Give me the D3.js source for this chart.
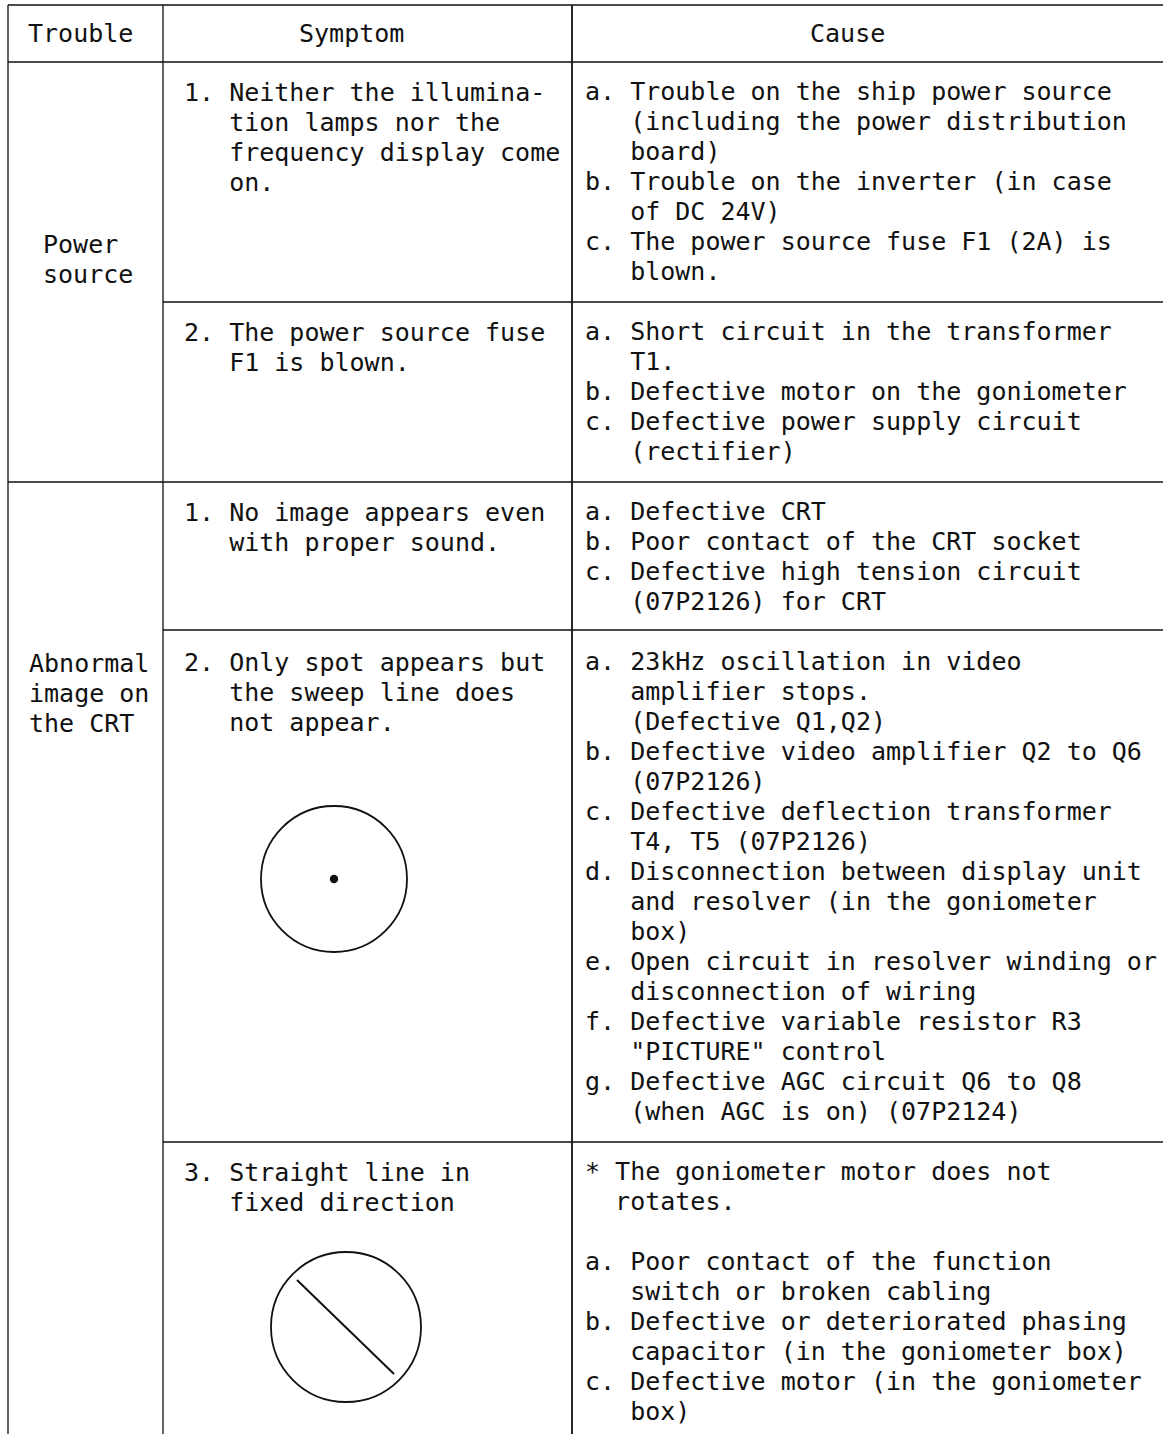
<!DOCTYPE html>
<html>
<head>
<meta charset="utf-8">
<script src="https://cdn.jsdelivr.net/npm/d3@7"></script>
<style>
  html, body { margin: 0; padding: 0; background: #fff; }
  svg { display: block; }
  text { font-family: "DejaVu Sans Mono", "Liberation Mono", monospace; font-size: 25px; fill: #111; white-space: pre; }
</style>
</head>
<body>
<script>
// ---- data ----
const headers = ["Trouble", "Symptom", "Cause"];
const troubleLabels = [["Power", "source"], ["Abnormal", "image on", "the CRT"]];
const troubleRows = [[0, 1], [2, 3, 4]];
const symptoms = [
  ["1. Neither the illumina-", "tion lamps nor the", "frequency display come", "on."],
  ["2. The power source fuse", "F1 is blown."],
  ["1. No image appears even", "with proper sound."],
  ["2. Only spot appears but", "the sweep line does", "not appear."],
  ["3. Straight line in", "fixed direction"]
];
const causes = [
  ["a. Trouble on the ship power source", "(including the power distribution", "board)",
   "b. Trouble on the inverter (in case", "of DC 24V)",
   "c. The power source fuse F1 (2A) is", "blown."],
  ["a. Short circuit in the transformer", "T1.",
   "b. Defective motor on the goniometer",
   "c. Defective power supply circuit", "(rectifier)"],
  ["a. Defective CRT", "b. Poor contact of the CRT socket",
   "c. Defective high tension circuit", "(07P2126) for CRT"],
  ["a. 23kHz oscillation in video", "amplifier stops.", "(Defective Q1,Q2)",
   "b. Defective video amplifier Q2 to Q6", "(07P2126)",
   "c. Defective deflection transformer", "T4, T5 (07P2126)",
   "d. Disconnection between display unit", "and resolver (in the goniometer", "box)",
   "e. Open circuit in resolver winding or", "disconnection of wiring",
   "f. Defective variable resistor R3", "\"PICTURE\" control",
   "g. Defective AGC circuit Q6 to Q8", "(when AGC is on) (07P2124)"],
  ["* The goniometer motor does not", "rotates.", "",
   "a. Poor contact of the function", "switch or broken cabling",
   "b. Defective or deteriorated phasing", "capacitor (in the goniometer box)",
   "c. Defective motor (in the goniometer", "box)"]
];
const sketchRows = [3, 4];
const sketchKinds = ["spot", "line"];

// ---- layout ----
const W = 1163, H = 1434;
const colX = [8, 163, 572, 1163];
const tableTop = 5, headerBottom = 62;
const lineH = 30, charW = 15.05;
const firstBase = 38;
const headerX = [28, 299, 810];
const troubleX = [43, 29];
const troubleAnchorRow = [0, 3];
const troubleBase = [191, 40];

const svg = d3.select("body").append("svg").attr("width", W).attr("height", H);
const g = svg.append("g");

// row tops derived from line counts
const rowTops = [headerBottom];
causes.forEach((c, i) => {
  const n = Math.max(c.length, symptoms[i].length);
  rowTops.push(rowTops[i] + n * lineH + lineH);
});

function lineScale(base) {
  return d3.scaleLinear().domain([0, 1]).range([base, base + lineH]);
}

// headers
g.selectAll(null).data(headers).enter().append("text")
  .attr("x", (d, i) => headerX[i]).attr("y", 42).text(d => d);

// trouble labels
troubleLabels.forEach((lab, i) => {
  const y = lineScale(rowTops[troubleAnchorRow[i]] + troubleBase[i]);
  g.selectAll(null).data(lab).enter().append("text")
    .attr("x", troubleX[i]).attr("y", (d, k) => y(k)).text(d => d);
});

// symptoms
symptoms.forEach((lines, i) => {
  const y = lineScale(rowTops[i] + firstBase + 1);
  g.selectAll(null).data(lines).enter().append("text")
    .attr("x", (d, k) => 184 + (k === 0 ? 0 : 3) * charW)
    .attr("y", (d, k) => y(k))
    .text(d => d);
});

// causes
causes.forEach((lines, i) => {
  let cur = 0;
  const ind = lines.map(l => {
    if (/^[0-9a-z]\.\s/.test(l)) { cur = 3; return 0; }
    if (/^\*\s/.test(l)) { cur = 2; return 0; }
    return cur;
  });
  const y = lineScale(rowTops[i] + firstBase);
  g.selectAll(null).data(lines).enter().append("text")
    .attr("x", (d, k) => 585 + ind[k] * charW)
    .attr("y", (d, k) => y(k))
    .text(d => d);
});

// sketches
sketchRows.forEach((row, i) => {
  const top = rowTops[row];
  if (sketchKinds[i] === "spot") {
    const cx = 334, cy = top + 247, r = 73;
    g.append("circle").attr("cx", cx).attr("cy", cy).attr("r", r)
      .attr("fill", "none").attr("stroke", "#111").attr("stroke-width", 1.8);
    g.append("circle").attr("cx", cx).attr("cy", cy).attr("r", 4.2).attr("fill", "#111");
  } else {
    const cx = 346, cy = top + 185, r = 75;
    g.append("circle").attr("cx", cx).attr("cy", cy).attr("r", r)
      .attr("fill", "none").attr("stroke", "#111").attr("stroke-width", 1.8);
    g.append("line").attr("x1", cx - 49).attr("y1", cy - 47).attr("x2", cx + 48).attr("y2", cy + 47)
      .attr("stroke", "#111").attr("stroke-width", 2);
  }
});

// grid lines
const hLines = [
  { y: tableTop, x1: colX[0], x2: W },
  { y: headerBottom, x1: colX[0], x2: W },
  { y: rowTops[1], x1: colX[1], x2: W },
  { y: rowTops[2], x1: colX[0], x2: W },
  { y: rowTops[3] - 2, x1: colX[1], x2: W },
  { y: rowTops[4], x1: colX[1], x2: W }
];
g.selectAll(null).data(hLines).enter().append("line")
  .attr("x1", d => d.x1).attr("x2", d => d.x2)
  .attr("y1", d => d.y).attr("y2", d => d.y)
  .attr("stroke", "#111").attr("stroke-width", 1.6);
g.selectAll(null).data(colX.slice(0, 3)).enter().append("line")
  .attr("x1", d => d).attr("x2", d => d)
  .attr("y1", tableTop).attr("y2", H)
  .attr("stroke", "#111").attr("stroke-width", (d, i) => i === 2 ? 1.8 : 1.3);
</script>
</body>
</html>
